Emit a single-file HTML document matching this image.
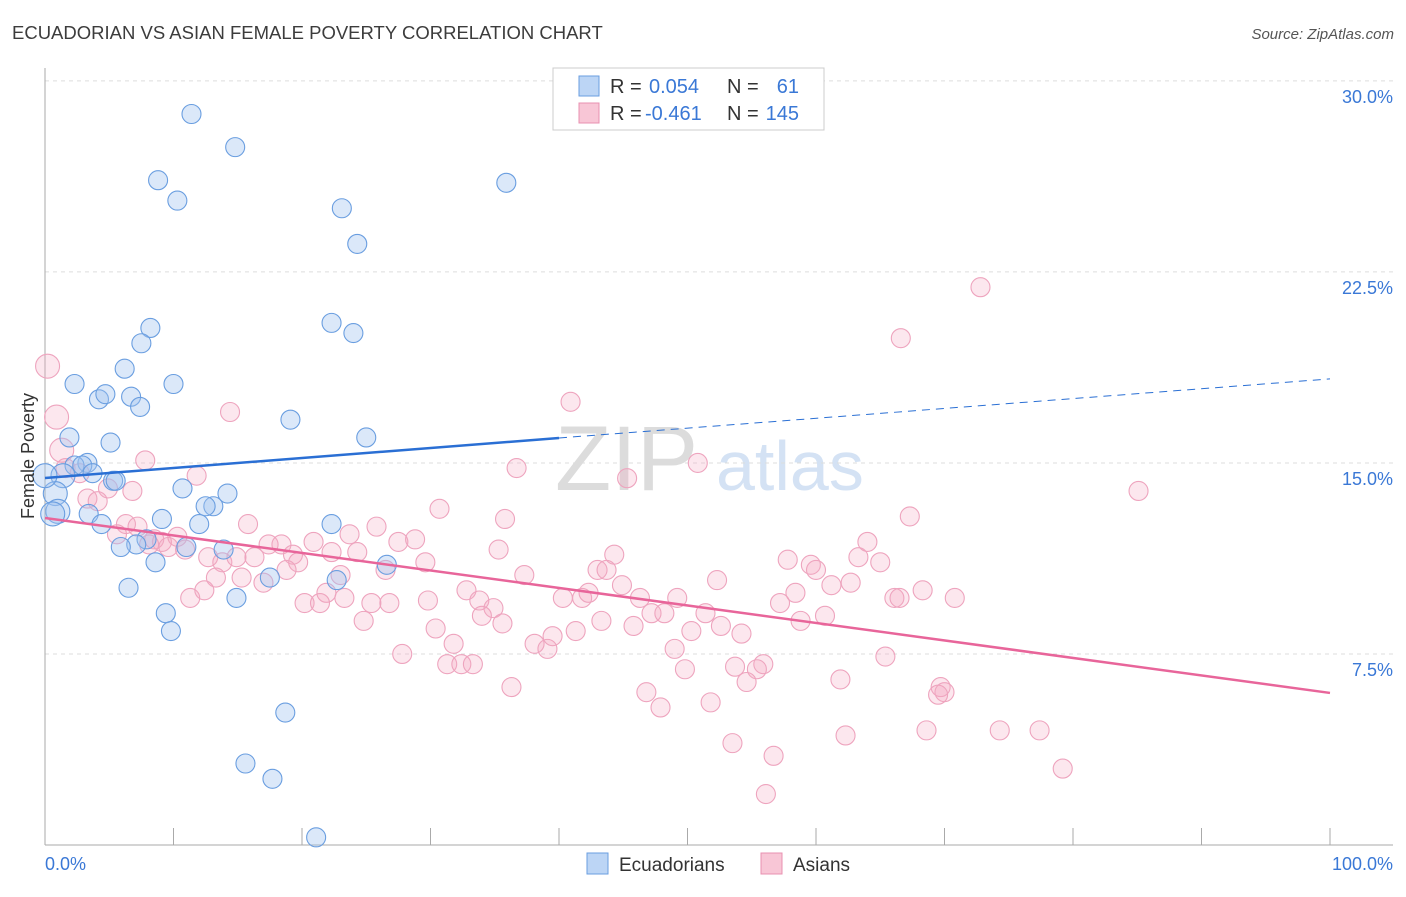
<!DOCTYPE html>
<html><head><meta charset="utf-8"><style>
body{margin:0;background:#fff;font-family:"Liberation Sans",sans-serif;}
svg text{font-family:"Liberation Sans",sans-serif;}
</style></head><body>
<svg id="chart" width="1406" height="892" xmlns="http://www.w3.org/2000/svg">
<text x="12" y="39" font-size="18.5" fill="#3c3c3c">ECUADORIAN VS ASIAN FEMALE POVERTY CORRELATION CHART</text>
<text x="1394" y="39" font-size="15" fill="#555" font-style="italic" text-anchor="end">Source: ZipAtlas.com</text>
<g>
<text x="555" y="490" font-size="92" fill="#dcdcdc" font-family="Liberation Serif">ZIP</text>
<text x="716" y="490" font-size="70" fill="#d4e2f4">atlas</text>
</g>
<g id="grid"></g>
<g id="axes"></g>
<g id="points"></g>
<g id="trends"></g>
<text transform="translate(34,456) rotate(-90)" font-size="18" fill="#333" text-anchor="middle">Female Poverty</text>
<g>
<rect x="553" y="68" width="271" height="62" fill="#fff" stroke="#ccc"/>
<rect x="579" y="76" width="20" height="20" fill="#bcd5f5" stroke="#6a9ee0"/>
<rect x="579" y="103" width="20" height="20" fill="#f8c6d6" stroke="#e890b0"/>
<text x="610" y="93" font-size="20" fill="#333">R =</text>
<text x="649" y="93" font-size="20" fill="#3a78d6">0.054</text>
<text x="727" y="93" font-size="20" fill="#333">N =</text>
<text x="799" y="93" font-size="20" fill="#3a78d6" text-anchor="end">61</text>
<text x="610" y="120" font-size="20" fill="#333">R =</text>
<text x="645" y="120" font-size="20" fill="#3a78d6">-0.461</text>
<text x="727" y="120" font-size="20" fill="#333">N =</text>
<text x="799" y="120" font-size="20" fill="#3a78d6" text-anchor="end">145</text>
</g>
<g>
<rect x="587" y="853" width="21" height="21" fill="#bcd5f5" stroke="#6a9ee0"/>
<text x="619" y="871" font-size="19" fill="#333">Ecuadorians</text>
<rect x="761" y="853" width="21" height="21" fill="#f8c6d6" stroke="#e890b0"/>
<text x="793" y="871" font-size="19" fill="#333">Asians</text>
</g>
</svg>
<script>
const yTicks=[7.5,15,22.5,30];
const yTickLabels=["7.5%","15.0%","22.5%","30.0%"];
const xTickLabels=["0.0%","100.0%"];
const blueX=[11.4,14.8,8.8,10.3,35.9,23.1,24.3,22.3,24.0,8.2,7.5,6.2,2.3,10.0,4.2,4.7,6.7,7.4,19.1,1.9,25.0,5.1,3.3,2.3,2.9,3.7,1.4,5.3,5.5,10.7,0.8,14.2,13.1,12.5,1.0,0.6,3.4,4.4,9.1,12.0,22.3,7.9,7.1,5.9,11.0,13.9,8.6,26.6,17.5,22.7,6.5,14.9,9.4,9.8,18.7,15.6,17.7,21.1,0.0];
const blueY=[28.7,27.4,26.1,25.3,26.0,25.0,23.6,20.5,20.1,20.3,19.7,18.7,18.1,18.1,17.5,17.7,17.6,17.2,16.7,16.0,16.0,15.8,15.0,14.9,14.9,14.6,14.5,14.3,14.3,14.0,13.8,13.8,13.3,13.3,13.1,13.0,13.0,12.6,12.8,12.6,12.6,12.0,11.8,11.7,11.7,11.6,11.1,11.0,10.5,10.4,10.1,9.7,9.1,8.4,5.2,3.2,2.6,0.3,14.5];
const pinkX=[0.2,0.9,1.3,14.4,72.8,66.6,40.9,7.8,11.8,50.8,36.7,45.3,85.1,1.6,2.7,3.3,4.1,6.8,4.9,15.8,30.7,35.8,25.8,6.3,7.2,5.6,8.5,9.1,9.6,10.3,10.9,8.1,12.7,13.8,14.9,16.3,17.4,18.4,19.3,19.7,20.9,22.3,23.7,24.3,26.5,27.5,28.8,29.6,35.3,44.3,43.0,43.7,37.3,52.3,57.8,59.6,60.0,63.3,64.0,65.0,67.3,61.2,62.7,66.1,66.5,68.3,70.8,58.4,57.2,13.3,15.3,17.0,18.8,21.9,23.0,23.3,20.2,21.4,25.4,26.8,29.8,32.8,33.8,34.9,34.0,40.3,41.8,42.3,44.9,46.3,49.2,47.2,51.4,58.8,60.7,24.8,30.4,31.8,35.6,38.1,39.1,39.5,41.3,43.3,45.8,48.2,50.3,52.6,54.2,49.0,27.8,31.3,32.4,33.3,49.8,53.7,55.9,55.4,54.6,61.9,65.4,69.7,70.0,69.5,36.3,46.8,47.9,51.8,11.3,12.4,53.5,56.7,62.3,68.6,74.3,77.4,79.2,56.1];
const pinkY=[18.8,16.8,15.5,17.0,21.9,19.9,17.4,15.1,14.5,15.0,14.8,14.4,13.9,14.8,14.6,13.6,13.5,13.9,14.0,12.6,13.2,12.8,12.5,12.6,12.5,12.2,12.0,11.9,11.7,12.1,11.6,11.8,11.3,11.1,11.3,11.3,11.8,11.8,11.4,11.1,11.9,11.5,12.2,11.5,10.8,11.9,12.0,11.1,11.6,11.4,10.8,10.8,10.6,10.4,11.2,11.0,10.8,11.3,11.9,11.1,12.9,10.2,10.3,9.7,9.7,10.0,9.7,9.9,9.5,10.5,10.5,10.3,10.8,9.9,10.6,9.7,9.5,9.5,9.5,9.5,9.6,10.0,9.6,9.3,9.0,9.7,9.7,9.9,10.2,9.7,9.7,9.1,9.1,8.8,9.0,8.8,8.5,7.9,8.7,7.9,7.7,8.2,8.4,8.8,8.6,9.1,8.4,8.6,8.3,7.7,7.5,7.1,7.1,7.1,6.9,7.0,7.1,6.9,6.4,6.5,7.4,6.2,6.0,5.9,6.2,6.0,5.4,5.6,9.7,10.0,4.0,3.5,4.3,4.5,4.5,4.5,3.0,2.0];
const blueTrend=[14.41,15.98,18.3];
const pinkTrend=[12.84,5.97];

const X0=45,X1=1330,Y0=845,YPER=25.47;
const sx=v=>X0+(X1-X0)*v/100;
const sy=v=>Y0-v*YPER;
const NS="http://www.w3.org/2000/svg";
function mk(tag,attrs,parent){const e=document.createElementNS(NS,tag);for(const k in attrs)e.setAttribute(k,attrs[k]);document.getElementById(parent).appendChild(e);return e;}

yTicks.forEach((t,i)=>{
  const l=mk('line',{x1:45,x2:1393,y1:sy(t),y2:sy(t),stroke:'#ddd','stroke-dasharray':'4,4'},'grid');
  
  
  const tx=mk('text',{x:1393,y:sy(t)+22,'font-size':18,fill:'#3a78d6','text-anchor':'end'},'grid');
  tx.textContent=yTickLabels[i];
  
  
});
const ax=mk('line',{x1:45,x2:1393,y1:845,y2:845,stroke:'#aaa'},'axes');


const ay=mk('line',{x1:45,x2:45,y1:68,y2:845,stroke:'#aaa'},'axes');


for(let i=0;i<=10;i++){
  const t=mk('line',{x1:sx(i*10),x2:sx(i*10),y1:828,y2:845,stroke:'#aaa'},'axes');
  
  
}
const xl0=mk('text',{x:45,y:870,'font-size':18,fill:'#3a78d6'},'axes');xl0.textContent=xTickLabels[0];


const xl1=mk('text',{x:1393,y:870,'font-size':18,fill:'#3a78d6','text-anchor':'end'},'axes');xl1.textContent=xTickLabels[1];



pinkX.forEach((v,i)=>{
  const r=v<1.5?12:9.5;
  const c=mk('circle',{cx:sx(v),cy:sy(pinkY[i]),r:r,fill:'rgba(245,170,195,0.28)',stroke:'#eea4be','stroke-width':1.1},'points');
  
  
});
blueX.forEach((v,i)=>{
  const r=v<1.5?12:9.5;
  const c=mk('circle',{cx:sx(v),cy:sy(blueY[i]),r:r,fill:'rgba(160,195,240,0.38)',stroke:'#6a9ee0','stroke-width':1.1},'points');
  
  
});
const b1=mk('line',{x1:sx(0),y1:sy(blueTrend[0]),x2:sx(40),y2:sy(blueTrend[1]),stroke:'#2a6fd4','stroke-width':2.5},'trends');


const b2=mk('line',{x1:sx(40),y1:sy(blueTrend[1]),x2:sx(100),y2:sy(blueTrend[2]),stroke:'#2a6fd4','stroke-width':1,'stroke-dasharray':'8,6'},'trends');


const p1=mk('line',{x1:sx(0),y1:sy(pinkTrend[0]),x2:sx(100),y2:sy(pinkTrend[1]),stroke:'#e8659a','stroke-width':2.5},'trends');


</script>
</body></html>
